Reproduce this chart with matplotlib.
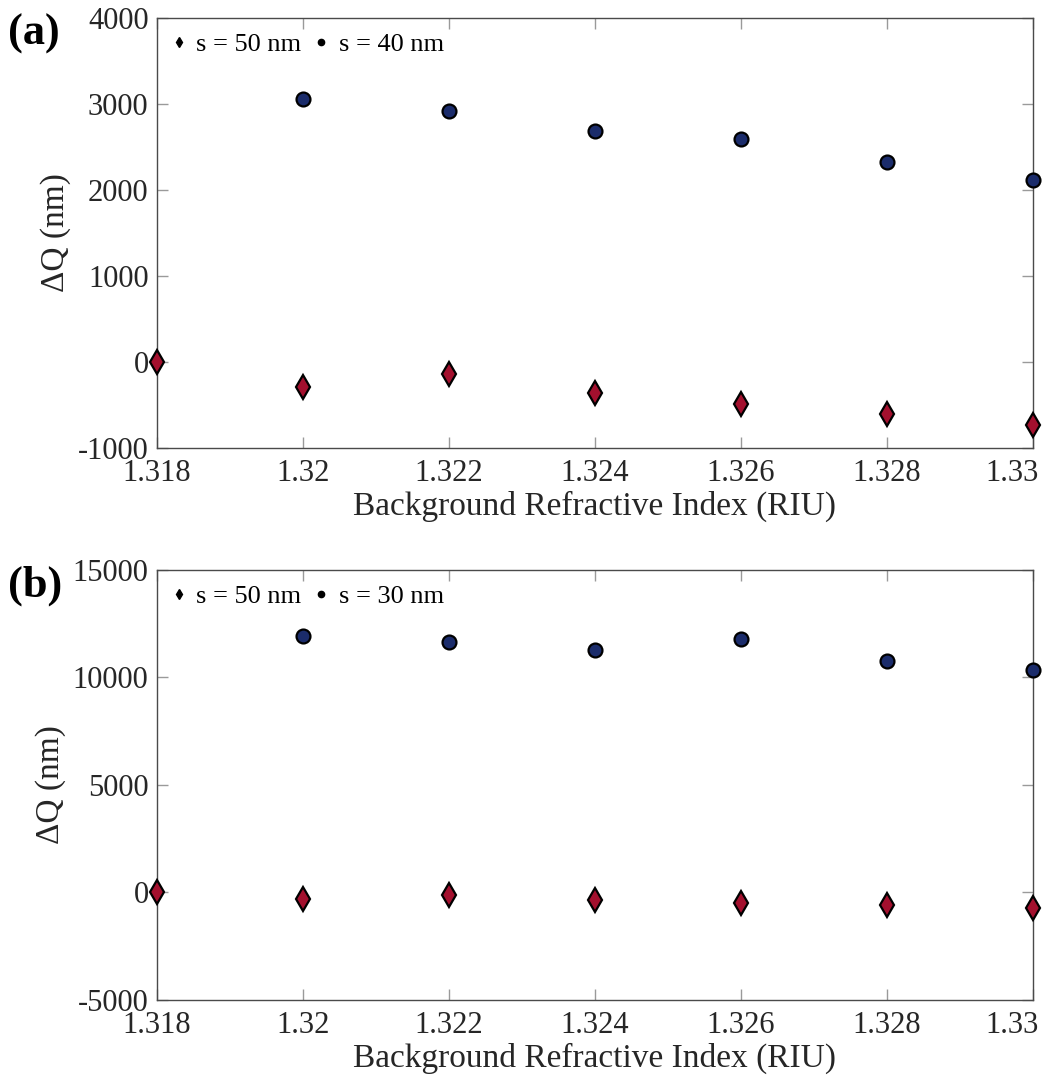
import numpy as np
import matplotlib
matplotlib.use('Agg')
import matplotlib.pyplot as plt
import matplotlib.transforms as mtransforms
from matplotlib.lines import Line2D

plt.rcParams['font.family'] = ['Liberation Serif', 'DejaVu Serif']

# data
ri = [1.318, 1.32, 1.322, 1.324, 1.326, 1.328, 1.33]
xtick_labels = ['1.318', '1.32', '1.322', '1.324', '1.326', '1.328', '1.33']

ri_a40 = [1.32, 1.322, 1.324, 1.326, 1.328, 1.33]
dq_a40 = [3060, 2920, 2686, 2593, 2326, 2116]
dq_a50 = [0, -290, -140, -360, -490, -605, -730]

ri_b30 = [1.32, 1.322, 1.324, 1.326, 1.328, 1.33]
dq_b30 = [11950, 11630, 11260, 11810, 10745, 10370]
dq_b50 = [0, -280, -140, -370, -510, -600, -740]

blue = '#1b2c6b'
red = '#a3102e'
spine_c = '#4a4a4a'
txt_c = '#262626'

fig = plt.figure(figsize=(10.46, 10.82), dpi=100)
ax1 = fig.add_axes([0.150, 0.586, 0.8376, 0.3974])
ax2 = fig.add_axes([0.150, 0.0758, 0.8376, 0.3974])

panels = [
    (ax1, ri_a40, dq_a40, dq_a50, 's = 40 nm', (-1000, 4000), [-1000, 0, 1000, 2000, 3000, 4000], '(a)'),
    (ax2, ri_b30, dq_b30, dq_b50, 's = 30 nm', (-5000, 15000), [-5000, 0, 5000, 10000, 15000], '(b)'),
]

for ax, xb, yb, yr, lab, ylim, yt, tag in panels:
    ax.plot(ri, yr, linestyle='none', marker='d', markersize=12,
            markerfacecolor=red, markeredgecolor='black', markeredgewidth=1.6, clip_on=False, zorder=3)
    ax.plot(xb, yb, linestyle='none', marker='o', markersize=10,
            markerfacecolor=blue, markeredgecolor='black', markeredgewidth=1.6, clip_on=False, zorder=3)
    ax.set_xlim(1.318, 1.33)
    ax.set_ylim(*ylim)
    ax.set_xticks(ri)
    ax.set_xticklabels(xtick_labels)
    ax.set_yticks(yt)
    ax.set_yticklabels([str(v) for v in yt])
    ax.tick_params(direction='in', length=8, width=1, color='#9a9a9a', labelsize=22,
                   top=True, right=True, labelcolor=txt_c)
    ax.tick_params(axis='x', pad=8)
    ax.tick_params(axis='y', pad=6)
    # last x label sits inside the figure, right-aligned near the axis end
    last = ax.get_xticklabels()[-1]
    last.set_horizontalalignment('right')
    last.set_transform(last.get_transform() + mtransforms.ScaledTranslation(6 / 100, 0, fig.dpi_scale_trans))
    for s in ax.spines.values():
        s.set_color(spine_c)
        s.set_linewidth(1.0)
    ax.set_xlabel('Background Refractive Index (RIU)', fontsize=24, color=txt_c, labelpad=2)
    ax.set_ylabel('\u0394Q (nm)', fontsize=24, color=txt_c, labelpad=5)
    handles = [
        Line2D([], [], linestyle='none', marker='d', markersize=5, color='black'),
        Line2D([], [], linestyle='none', marker='o', markersize=4.5, color='black'),
    ]
    ax.legend(handles, ['s = 50 nm', lab], loc='upper left', ncol=2, frameon=False,
              fontsize=19, handlelength=0.6, handletextpad=0.35, columnspacing=0.45,
              borderaxespad=0.15, bbox_to_anchor=(0.0, 1.0))
    fig.text(0.008, ax.get_position().y1 - 0.015, tag, fontsize=32, fontweight='bold',
             va='center', ha='left')

fig.savefig('out.png', dpi=100)
